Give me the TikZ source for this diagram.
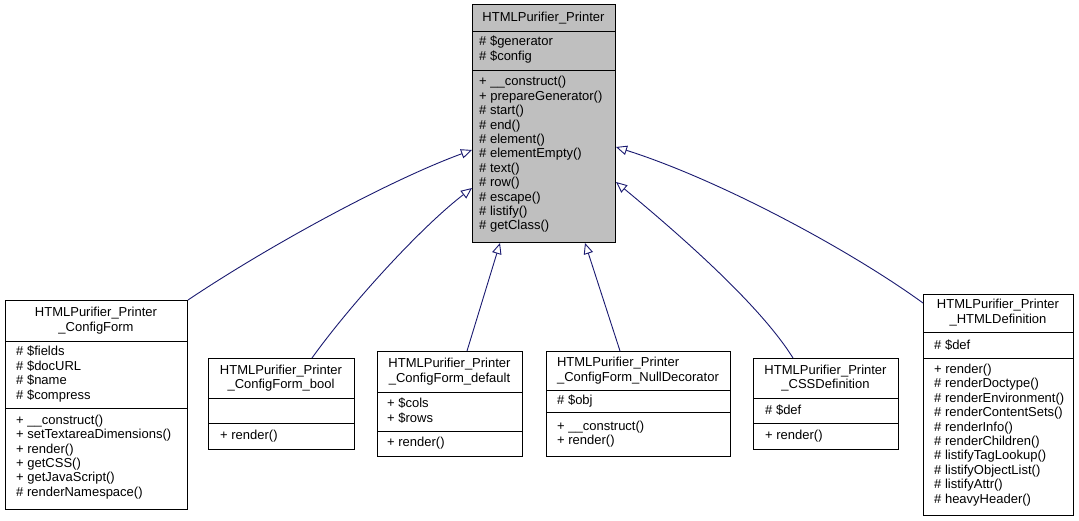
\documentclass[tikz,border=0pt]{standalone}
\usepackage{fontspec}
\setmainfont{Liberation Sans}
\usetikzlibrary{arrows.meta,positioning}
\definecolor{edgeblue}{HTML}{191970}
\definecolor{basegray}{HTML}{BFBFBF}

\begin{document}
\begin{tikzpicture}[
            x=1pt, y=-1pt,
            font=\fontsize{13}{14.4}\selectfont,
            classbox/.style={draw, line width=1pt, fill=white, inner sep=0pt, anchor=north west},
            basebox/.style={classbox, fill=basegray},
            sep/.style={line width=1pt},
            classtitle/.style={align=center, inner sep=0pt},
            members/.style={align=left, anchor=west, inner sep=0pt},
            inherit/.style={draw=edgeblue, line width=0.9pt, -{Triangle[open, length=11pt, width=9.5pt]}}
        ]
        \useasboundingbox (0,0) rectangle (1079,521);

        % Base class
        \node[basebox, minimum width=143pt, minimum height=238pt] (printer) at (472,4) {};
        \draw[sep] (printer.west |- 0,32) -- (printer.east |- 0,32);
        \draw[sep] (printer.west |- 0,71) -- (printer.east |- 0,71);
        \node[classtitle] (printer-t) at (543.5,18) {HTMLPurifier\_Printer};
        \node[members] (printer-a) at (479,49.5) {\# \$generator\\\# \$config};
        \node[members] (printer-m) at (479,154.5) {+ \_\_construct()\\+ prepareGenerator()\\\# start()\\\# end()\\\# element()\\\# elementEmpty()\\\# text()\\\# row()\\\# escape()\\\# listify()\\\# getClass()};

        % Derived classes
        \node[classbox, minimum width=182pt, minimum height=209pt] (configform) at (5,300) {};
        \draw[sep] (configform.west |- 0,341) -- (configform.east |- 0,341);
        \draw[sep] (configform.west |- 0,408) -- (configform.east |- 0,408);
        \node[classtitle] (configform-t) at (96,320.5) {HTMLPurifier\_Printer\\\_ConfigForm};
        \node[members] (configform-a) at (16,374) {\# \$fields\\\# \$docURL\\\# \$name\\\# \$compress};
        \node[members] (configform-m) at (16,457) {+ \_\_construct()\\+ setTextareaDimensions()\\+ render()\\+ getCSS()\\+ getJavaScript()\\\# renderNamespace()};

        \node[classbox, minimum width=146pt, minimum height=91pt] (cfbool) at (208,358) {};
        \draw[sep] (cfbool.west |- 0,398) -- (cfbool.east |- 0,398);
        \draw[sep] (cfbool.west |- 0,423) -- (cfbool.east |- 0,423);
        \node[classtitle] (cfbool-t) at (281,378) {HTMLPurifier\_Printer\\\_ConfigForm\_bool};
        \node[members] (cfbool-m) at (220,436) {+ render()};

        \node[classbox, minimum width=145pt, minimum height=105pt] (cfdefault) at (377,351) {};
        \draw[sep] (cfdefault.west |- 0,392) -- (cfdefault.east |- 0,392);
        \draw[sep] (cfdefault.west |- 0,431) -- (cfdefault.east |- 0,431);
        \node[classtitle] (cfdefault-t) at (449.5,371.5) {HTMLPurifier\_Printer\\\_ConfigForm\_default};
        \node[members] (cfdefault-a) at (387,410.5) {+ \$cols\\+ \$rows};
        \node[members] (cfdefault-m) at (387,443.5) {+ render()};

        \node[classbox, minimum width=184pt, minimum height=105pt] (cfnull) at (546,351) {};
        \draw[sep] (cfnull.west |- 0,390) -- (cfnull.east |- 0,390);
        \draw[sep] (cfnull.west |- 0,412) -- (cfnull.east |- 0,412);
        \node[classtitle, align=left] (cfnull-t) at (638,370.5) {HTMLPurifier\_Printer\\\_ConfigForm\_NullDecorator};
        \node[members] (cfnull-a) at (557,401) {\# \$obj};
        \node[members] (cfnull-m) at (557,434) {+ \_\_construct()\\+ render()};

        \node[classbox, minimum width=145pt, minimum height=91pt] (cssdef) at (753,358) {};
        \draw[sep] (cssdef.west |- 0,398) -- (cssdef.east |- 0,398);
        \draw[sep] (cssdef.west |- 0,423) -- (cssdef.east |- 0,423);
        \node[classtitle] (cssdef-t) at (825.5,378) {HTMLPurifier\_Printer\\\_CSSDefinition};
        \node[members] (cssdef-a) at (765,410.5) {\# \$def};
        \node[members] (cssdef-m) at (765,436) {+ render()};

        \node[classbox, minimum width=150pt, minimum height=221pt] (htmldef) at (923,294) {};
        \draw[sep] (htmldef.west |- 0,333) -- (htmldef.east |- 0,333);
        \draw[sep] (htmldef.west |- 0,358) -- (htmldef.east |- 0,358);
        \node[classtitle] (htmldef-t) at (998,312.5) {HTMLPurifier\_Printer\\\_HTMLDefinition};
        \node[members] (htmldef-a) at (934,345) {\# \$def};
        \node[members] (htmldef-m) at (934,435) {+ render()\\\# renderDoctype()\\\# renderEnvironment()\\\# renderContentSets()\\\# renderInfo()\\\# renderChildren()\\\# listifyTagLookup()\\\# listifyObjectList()\\\# listifyAttr()\\\# heavyHeader()};

        % Connector ends
        \coordinate (tip-cf) at (printer.west |- 0,150);
        \coordinate (tip-bool) at (printer.west |- 0,188);
        \coordinate (tip-default) at (printer.south -| 500,0);
        \coordinate (tip-null) at (printer.south -| 585,0);
        \coordinate (tip-css) at (printer.east |- 0,182);
        \coordinate (tip-html) at (printer.east |- 0,147);
        \coordinate (src-bool) at (cfbool.north -| 312,0);
        \coordinate (src-default) at (cfdefault.north -| 467,0);
        \coordinate (src-null) at (cfnull.north -| 620,0);
        \coordinate (src-css) at (cssdef.north -| 793,0);
        \coordinate (src-html) at (htmldef.west |- 0,303);

        % Inheritance
        \draw[inherit] (configform.north east) .. controls (270,245) and (390,180) .. (tip-cf);
        \draw[inherit] (src-bool) .. controls (350,305) and (420,228) .. (tip-bool);
        \draw[inherit] (src-default) -- (tip-default);
        \draw[inherit] (src-null) -- (tip-null);
        \draw[inherit] (src-css) .. controls (760,305) and (680,235) .. (tip-css);
        \draw[inherit] (src-html) .. controls (850,250) and (720,180) .. (tip-html);

\end{tikzpicture}
\end{document}
